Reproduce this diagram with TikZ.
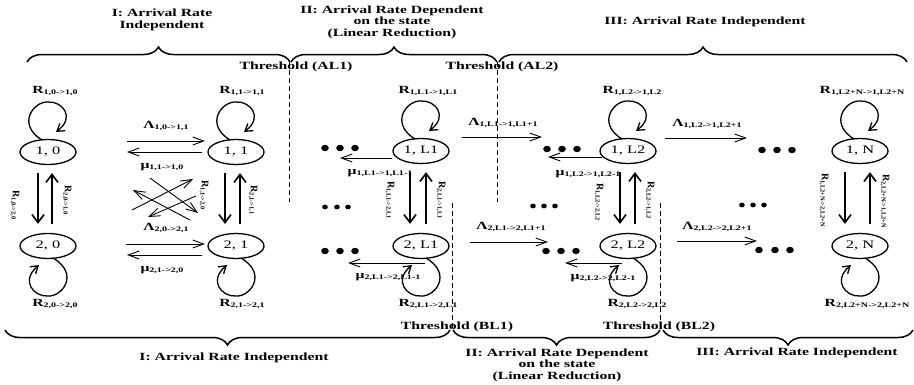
\documentclass[tikz,border=0pt]{standalone}
\usepackage{fontspec}
\setmainfont{Liberation Serif}[FakeStretch=1.43]
\newfontfamily\rfont{Liberation Serif}
\usetikzlibrary{arrows.meta,decorations.pathreplacing,calc,shapes.geometric}
\newcommand\sub[1]{\raisebox{-0.35ex}{\fontsize{7}{7}\selectfont #1}}
\newcommand\rsub[1]{\raisebox{-0.3ex}{\fontsize{6.3}{6.3}\selectfont #1}}
\begin{document}
\begin{tikzpicture}[x=1pt,y=1pt,
  st/.style={draw, ellipse, line width=1.3pt, minimum width=56pt, minimum height=25pt, inner sep=0pt, font=\fontsize{11.5}{12}\selectfont},
  lab/.style={font=\bfseries\fontsize{11}{12}\selectfont, inner sep=0pt},
  rlab/.style={font=\rfont\bfseries\fontsize{10}{11}\selectfont, inner sep=0pt, rotate=-90},
  ttl/.style={font=\bfseries\fontsize{11}{11.5}\selectfont, align=center, inner sep=0pt},
  harr/.style={line width=0.9pt, -{Straight Barb[length=11pt,width=8pt]}},
  varr/.style={line width=1.6pt, -{Straight Barb[length=8pt,width=12pt]}},
  loopa/.style={line width=1.3pt, -{Straight Barb[length=7pt,width=9pt]}},
  thrline/.style={line width=0.9pt, dash pattern=on 5pt off 3pt},
  brc/.style={decorate, decoration={brace, amplitude=15pt}, line width=1.5pt},
  dotfill/.style={fill=black}
]
\useasboundingbox (0,0) rectangle (914,-384);

% titles
\node[ttl] (t1) at (162,-20) {I: Arrival Rate\\Independent};
\node[ttl] (t2) at (392,-22) {II: Arrival Rate Dependent\\on the state\\(Linear Reduction)};
\node[ttl] (t3) at (705,-22) {III: Arrival Rate Independent};
\node[ttl] (b1) at (234,-358) {I: Arrival Rate Independent};
\node[ttl] (b2) at (557,-365) {II: Arrival Rate Dependent\\on the state\\(Linear Reduction)};
\node[ttl] (b3) at (797,-353) {III: Arrival Rate Independent};

% braces
\draw[brc] (27,-62) -- (290,-62);
\draw[brc] (291,-62) -- (497,-62);
\draw[brc] (499,-62) -- (907,-62);
\draw[brc] (450,-330) -- (5,-330);
\draw[brc] (660,-330) -- (453,-330);
\draw[brc] (913,-330) -- (663,-330);

% thresholds
\coordinate (a1t) at (289,-62); \coordinate (a1b) at (289,-202);
\coordinate (a2t) at (497,-62); \coordinate (a2b) at (497,-202);
\coordinate (b1t) at (452,-203); \coordinate (b1b) at (452,-330);
\coordinate (b2t) at (660,-203); \coordinate (b2b) at (660,-330);
\draw[thrline] (a1t) -- (a1b);
\draw[thrline] (a2t) -- (a2b);
\draw[thrline] (b1t) -- (b1b);
\draw[thrline] (b2t) -- (b2b);
\node[lab] (thA1) at (296,-67) {Threshold (AL1)};
\node[lab] (thA2) at (502,-67) {Threshold (AL2)};
\node[lab] (thB1) at (457,-327) {Threshold (BL1)};
\node[lab] (thB2) at (659,-327) {Threshold (BL2)};

% states
\node[st] (n10) at (48,-152) {1, 0};
\node[st] (n20) at (48,-246) {2, 0};
\node[st] (n11) at (236,-152) {1, 1};
\node[st] (n21) at (236,-246) {2, 1};
\node[st] (n1a) at (421,-151) {1, L1};
\node[st] (n2a) at (421,-246) {2, L1};
\node[st] (n1b) at (628,-151) {1, L2};
\node[st] (n2b) at (628,-246) {2, L2};
\node[st] (n1n) at (860,-151) {1, N};
\node[st] (n2n) at (860,-246) {2, N};

% self loops
\foreach \n in {n10,n11,n1a,n1b,n1n}{
  \draw[loopa] ($(\n)+(-6,12)$) .. controls ($(\n)+(-32,28)$) and ($(\n)+(-14,51)$) .. ($(\n)+(0,50)$)
     .. controls ($(\n)+(14,51)$) and ($(\n)+(28,35)$) .. ($(\n)+(8,20)$);
}
\foreach \n in {n20,n21,n2a,n2b,n2n}{
  \draw[loopa] ($(\n)+(5,-12)$) .. controls ($(\n)+(32,-28)$) and ($(\n)+(14,-51)$) .. ($(\n)+(0,-50)$)
     .. controls ($(\n)+(-14,-51)$) and ($(\n)+(-28,-35)$) .. ($(\n)+(-9,-19)$);
}
\node[lab] (r10) at (55,-91) {R\sub{1,0->1,0}};
\node[lab] (r11) at (242,-91) {R\sub{1,1->1,1}};
\node[lab] (r1a) at (428,-91) {R\sub{1,L1->1,L1}};
\node[lab] (r1b) at (632,-91) {R\sub{1,L2->1,L2}};
\node[lab] (r1n) at (862,-91) {R\sub{1,L2+N->1,L2+N}};
\node[lab] (r20) at (55,-304) {R\sub{2,0->2,0}};
\node[lab] (r21) at (242,-304) {R\sub{2,1->2,1}};
\node[lab] (r2a) at (428,-304) {R\sub{2,L1->2,L1}};
\node[lab] (r2b) at (637,-304) {R\sub{2,L2->2,L2}};
\node[lab] (r2n) at (867,-304) {R\sub{2,L2+N->2,L2+N}};

% vertical transitions
\foreach \a/\b/\dl/\dr in {n10/n20/-10/4, n11/n21/-11/4, n1a/n2a/-11/5, n1b/n2b/-8/7, n1n/n2n/-15/10}{
  \draw[varr] ($(\a.south)+(\dl,-8)$) -- ($(\b.north)+(\dl,9)$);
  \draw[varr] ($(\b.north)+(\dr,9)$) -- ($(\a.south)+(\dr,-8)$);
}
\node[rlab] (v1) at (15,-205) {R\rsub{1,0->2,0}};
\node[rlab] (v2) at (67,-200) {R\rsub{2,0->1,0}};
\node[rlab] (v3) at (204,-195) {R\rsub{1,1->2,0}};
\node[rlab] (v4) at (253,-200) {R\rsub{2,1->1,1}};
\node[rlab] (v5) at (390,-200) {R\rsub{1,L1->2,L1}};
\node[rlab] (v6) at (441,-200) {R\rsub{2,L1->1,L1}};
\node[rlab] (v7) at (599,-202) {R\rsub{1,L2->2,L2}};
\node[rlab] (v8) at (650,-200) {R\rsub{2,L2->1,L2}};
\node[rlab] (v9) at (824,-200) {R\rsub{1,L2+N->2,L2+N}};
\node[rlab] (v10) at (885,-201) {R\rsub{2,L2+N->1,L2+N}};

% region I horizontal arrows
\coordinate (p1) at (127,-141); \coordinate (p2) at (205,-141);
\coordinate (p3) at (202,-152); \coordinate (p4) at (127,-152);
\coordinate (p5) at (126,-244); \coordinate (p6) at (205,-244);
\coordinate (p7) at (202,-255); \coordinate (p8) at (127,-255);
\draw[harr] (p1) -- (p2);
\draw[harr] (p3) -- (p4);
\draw[harr] (p5) -- (p6);
\draw[harr] (p7) -- (p8);
\node[lab] (la1) at (166,-126) {Λ\sub{1,0->1,1}};
\node[lab] (lm1) at (162,-167) {μ\sub{1,1->1,0}};
\node[lab] (la2) at (166,-228) {Λ\sub{2,0->2,1}};
\node[lab] (lm2) at (162,-270) {μ\sub{2,1->2,0}};

% cross arrows
\coordinate (c1) at (132,-210); \coordinate (c2) at (193,-179);
\coordinate (c3) at (150,-178); \coordinate (c4) at (198,-213);
\coordinate (c5) at (190,-220); \coordinate (c6) at (133,-190);
\coordinate (c7) at (196,-196); \coordinate (c8) at (148,-217);
\draw[harr] (c1) -- (c2);
\draw[harr] (c3) -- (c4);
\draw[harr] (c5) -- (c6);
\draw[harr] (c7) -- (c8);

% region II / III horizontal arrows
\coordinate (q1) at (340,-158); \coordinate (q2) at (348,-263);
\coordinate (q3) at (462,-137); \coordinate (q4) at (542,-137);
\coordinate (q5) at (470,-242); \coordinate (q6) at (548,-242);
\coordinate (q7) at (548,-157); \coordinate (q8) at (565,-263);
\coordinate (q9) at (665,-138); \coordinate (q10) at (747,-138);
\coordinate (q11) at (677,-241); \coordinate (q12) at (757,-241);
\coordinate (s1) at (392,-158); \coordinate (s2) at (425,-263);
\coordinate (s3) at (602,-157); \coordinate (s4) at (622,-263);
\draw[harr] (s1) -- (q1);
\draw[harr] (s2) -- (q2);
\draw[harr] (q3) -- (q4);
\draw[harr] (q5) -- (q6);
\draw[harr] (s3) -- (q7);
\draw[harr] (s4) -- (q8);
\draw[harr] (q9) -- (q10);
\draw[harr] (q11) -- (q12);
\node[lab] (lm3) at (380,-173) {μ\sub{1,L1->1,L1-1}};
\node[lab] (lm4) at (388,-277) {μ\sub{2,L1->2,L1-1}};
\node[lab] (la3) at (503,-123) {Λ\sub{1,L1->1,L1+1}};
\node[lab] (la4) at (511,-227) {Λ\sub{2,L1->2,L1+1}};
\node[lab] (lm5) at (588,-174) {μ\sub{1,L2->1,L2-1}};
\node[lab] (lm6) at (603,-278) {μ\sub{2,L2->2,L2-1}};
\node[lab] (la5) at (707,-124) {Λ\sub{1,L2->1,L2+1}};
\node[lab] (la6) at (717,-227) {Λ\sub{2,L2->2,L2+1}};

% dots
\foreach \x/\y/\r in {325/148/3.8, 340/148/3.8, 355/148/3.8,
                      325/207/2.8, 337/207/2.8, 348/207/2.8,
                      325/251/3.8, 340/251/3.8, 355/251/3.8,
                      547/149/3.8, 562/149/3.8, 577/149/3.8,
                      533/206/2.8, 544/206/2.8, 555/206/2.8,
                      546/251/3.8, 561/251/3.8, 576/251/3.8,
                      762/150/3.8, 777/150/3.8, 792/150/3.8,
                      742/205/2.8, 753/205/2.8, 764/205/2.8,
                      759/250/3.8, 775/250/3.8, 790/250/3.8}{
  \fill[dotfill] (\x,-\y) ellipse ({\r} and {\r*0.85});
}
\end{tikzpicture}
\end{document}
